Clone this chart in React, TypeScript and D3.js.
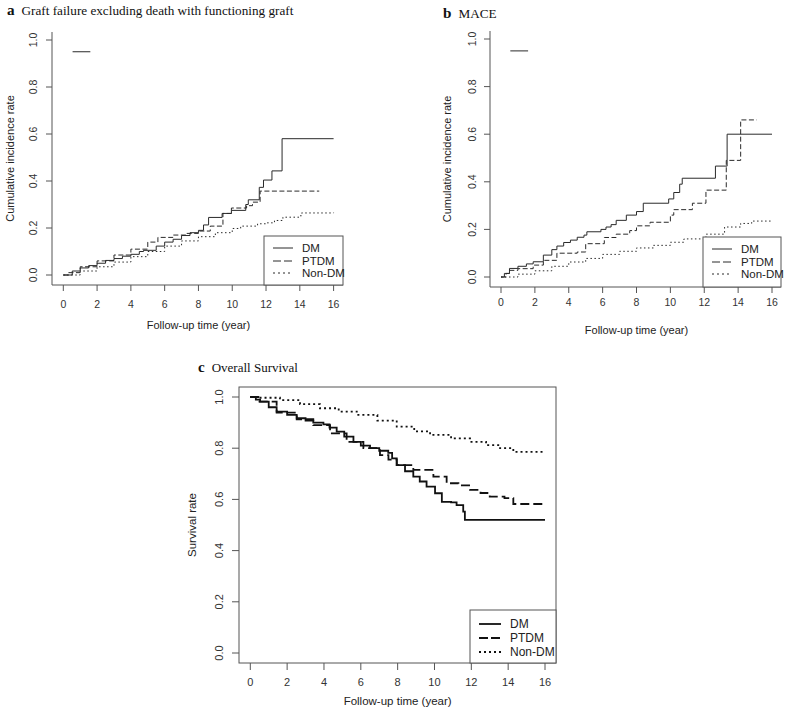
import React from "react";
import * as d3 from "d3";

type P = [number, number];

// ---------- data ----------
const seriesNames = ["DM", "PTDM", "Non-DM"];
const xTicks = [0, 2, 4, 6, 8, 10, 12, 14, 16];
const yTicks = [0, 0.2, 0.4, 0.6, 0.8, 1.0];

const strayMark: P[] = [[0.55, 0.95], [1.6, 0.95]];

const graftDM: P[] = [[0, 0], [0.53, 0.017], [1.0, 0.03], [1.5, 0.04], [2.0, 0.05], [2.5, 0.062], [3.0, 0.07], [3.5, 0.08], [4.0, 0.088], [4.5, 0.1], [4.75, 0.105], [5.5, 0.123], [6.0, 0.14], [6.5, 0.152], [7.0, 0.168], [7.5, 0.18], [8.0, 0.19], [8.3, 0.213], [8.6, 0.245], [9.4, 0.262], [9.95, 0.275], [10.8, 0.3], [10.95, 0.32], [11.6, 0.373], [11.85, 0.404], [12.35, 0.443], [12.95, 0.58], [16, 0.58]];
const graftPTDM: P[] = [[0, 0], [0.3, 0.01], [1, 0.035], [2, 0.06], [3, 0.085], [4, 0.11], [5, 0.14], [5.6, 0.16], [6.5, 0.17], [7.3, 0.177], [8, 0.187], [8.7, 0.208], [9.45, 0.262], [9.95, 0.285], [10.85, 0.295], [11.2, 0.31], [11.65, 0.357], [15.15, 0.357]];
const graftNonDM: P[] = [[0, 0], [1, 0.017], [2, 0.035], [3, 0.055], [4, 0.078], [5, 0.1], [6, 0.123], [7, 0.145], [8, 0.163], [9, 0.18], [10, 0.198], [10.5, 0.208], [11.5, 0.218], [12, 0.222], [12.5, 0.232], [13, 0.246], [14, 0.252], [14.1, 0.264], [16, 0.265]];

const maceDM: P[] = [[0, 0], [0.2, 0.015], [0.5, 0.036], [1.0, 0.045], [1.5, 0.055], [1.9, 0.064], [2.5, 0.092], [3.0, 0.115], [3.3, 0.13], [3.7, 0.145], [4.1, 0.155], [4.5, 0.167], [4.9, 0.176], [5.07, 0.19], [5.9, 0.2], [6.2, 0.21], [6.5, 0.22], [6.8, 0.238], [7.4, 0.26], [8.0, 0.275], [8.4, 0.31], [9.9, 0.328], [10.2, 0.355], [10.55, 0.39], [10.7, 0.415], [12.66, 0.466], [13.35, 0.6], [16, 0.6]];
const macePTDM: P[] = [[0, 0], [0.3, 0.015], [0.5, 0.028], [1.0, 0.035], [1.9, 0.05], [2.5, 0.07], [3.3, 0.1], [4.5, 0.105], [5.0, 0.14], [6.1, 0.166], [6.8, 0.18], [7.6, 0.195], [8.0, 0.215], [8.8, 0.23], [10.0, 0.26], [10.2, 0.283], [11.3, 0.31], [12.1, 0.365], [13.3, 0.49], [14.15, 0.66], [15.1, 0.66]];
const maceNonDM: P[] = [[0, 0], [1, 0.012], [2, 0.026], [3, 0.045], [4, 0.063], [5, 0.078], [6, 0.095], [7, 0.108], [8, 0.122], [9, 0.133], [10, 0.146], [10.8, 0.16], [12.1, 0.18], [13.2, 0.21], [14.15, 0.225], [14.8, 0.235], [16, 0.235]];

const osDM: P[] = [[0, 1], [0.3, 0.99], [0.53, 0.982], [1.0, 0.96], [1.43, 0.943], [2.0, 0.93], [2.52, 0.917], [3.0, 0.908], [3.42, 0.9], [3.97, 0.893], [4.3, 0.88], [4.69, 0.865], [5.1, 0.845], [5.6, 0.825], [6.0, 0.81], [6.5, 0.8], [7.0, 0.79], [7.49, 0.782], [7.7, 0.76], [7.95, 0.734], [8.4, 0.71], [8.85, 0.689], [9.2, 0.67], [9.57, 0.65], [10.03, 0.624], [10.4, 0.59], [10.9, 0.588], [11.2, 0.578], [11.56, 0.552], [11.65, 0.52], [16, 0.52]];
const osPTDM: P[] = [[0, 1], [0.5, 0.982], [1.43, 0.939], [2.52, 0.913], [3.42, 0.89], [4.33, 0.858], [5.23, 0.825], [6.14, 0.8], [7.04, 0.773], [7.5, 0.755], [7.95, 0.734], [8.85, 0.715], [9.94, 0.689], [10.66, 0.663], [11.3, 0.655], [11.93, 0.637], [12.5, 0.625], [13.0, 0.611], [13.8, 0.605], [14.28, 0.582], [16, 0.58]];
const osNonDM: P[] = [[0, 1], [0.5, 0.997], [1.61, 0.988], [2.7, 0.972], [3.78, 0.956], [4.8, 0.943], [5.78, 0.93], [6.9, 0.908], [7.95, 0.884], [8.9, 0.866], [9.76, 0.852], [10.9, 0.838], [11.93, 0.825], [12.8, 0.812], [13.56, 0.8], [14.28, 0.786], [16, 0.786]];

// ---------- component ----------
const SANS = "'Liberation Sans', Arial, sans-serif";
const SERIF = "'Liberation Serif', 'Times New Roman', serif";

interface PanelProps {
  letter: string;
  title: string;
  titleX: number;
  titleY: number;
  titleSize: number;
  ylabel: string;
  series: P[][];
  stray?: P[];
  plot: { l: number; r: number; t: number; b: number };
  x0: number; x16: number; y0: number; y1: number;
  fullBox: boolean;
  legend: { l: number; t: number; lineX0: number; lineX1: number; textX: number; rows: number[] };
  lw: number;
  dash: string[];
  legendDash: string[];
  font: number;
  tickLen: number;
  xLabY: number; xTitleY: number; yLabX: number; yTitleX: number;
  lineColor: string;
}

function Panel(p: PanelProps) {
  const x = d3.scaleLinear().domain([0, 16]).range([p.x0, p.x16]);
  const y = d3.scaleLinear().domain([0, 1]).range([p.y0, p.y1]);
  const line = d3.line<P>().x(d => x(d[0])).y(d => y(d[1])).curve(d3.curveStepAfter);
  const axisColor = "#555";
  const { l, r, t, b } = p.plot;
  return (
    <g>
      <text x={p.titleX} y={p.titleY} fontFamily={SERIF} fontSize={p.titleSize} fill="#111">
        <tspan fontWeight="bold" fontSize={p.titleSize + 2}>{p.letter}</tspan>
        <tspan dx={7}>{p.title}</tspan>
      </text>
      {p.fullBox ? (
        <rect x={l} y={t} width={r - l} height={b - t} fill="none" stroke={axisColor} strokeWidth={1} />
      ) : (
        <path d={`M${l},${t}V${b}H${r}`} fill="none" stroke={axisColor} strokeWidth={1} />
      )}
      {xTicks.map(v => (
        <g key={"x" + v}>
          <line x1={x(v)} x2={x(v)} y1={b} y2={b + p.tickLen} stroke={axisColor} />
          <text x={x(v)} y={p.xLabY} textAnchor="middle" dominantBaseline="central" fontFamily={SANS} fontSize={p.font} fill="#333">{v}</text>
        </g>
      ))}
      {yTicks.map(v => (
        <g key={"y" + v}>
          <line x1={l - p.tickLen} x2={l} y1={y(v)} y2={y(v)} stroke={axisColor} />
          <text transform={`translate(${p.yLabX},${y(v)}) rotate(-90)`} textAnchor="middle" dominantBaseline="central" fontFamily={SANS} fontSize={p.font} fill="#333">{v.toFixed(1)}</text>
        </g>
      ))}
      <text x={(x(0) + x(16)) / 2} y={p.xTitleY} textAnchor="middle" dominantBaseline="central" fontFamily={SANS} fontSize={p.font + 0.5} fill="#222">Follow-up time (year)</text>
      <text transform={`translate(${p.yTitleX},${(t + b) / 2}) rotate(-90)`} textAnchor="middle" dominantBaseline="central" fontFamily={SANS} fontSize={p.font + 0.5} fill="#222">{p.ylabel}</text>
      {p.series.map((s, i) => (
        <path key={"s" + i} d={line(s) || ""} fill="none" stroke={p.lineColor} strokeWidth={p.lw} strokeDasharray={p.dash[i]} />
      ))}
      {p.stray && <path d={d3.line<P>().x(d => x(d[0])).y(d => y(d[1]))(p.stray) || ""} stroke={p.lineColor} strokeWidth={1} fill="none" />}
      <rect x={p.legend.l} y={p.legend.t} width={r - p.legend.l} height={b - p.legend.t} fill="white" stroke={axisColor} strokeWidth={1} />
      {seriesNames.map((n, i) => (
        <g key={"lg" + i}>
          <line x1={p.legend.lineX0} x2={p.legend.lineX1} y1={p.legend.rows[i]} y2={p.legend.rows[i]} stroke={p.lineColor} strokeWidth={p.lw} strokeDasharray={p.legendDash[i]} />
          <text x={p.legend.textX} y={p.legend.rows[i]} dominantBaseline="central" fontFamily={SANS} fontSize={p.font + 1} fill="#222">{n}</text>
        </g>
      ))}
    </g>
  );
}

export default function App() {
  return (
    <svg width={789} height={715} style={{ position: "absolute", left: 0, top: 0, background: "white" }}>
      <Panel
        letter="a" title="Graft failure excluding death with functioning graft" titleX={7} titleY={15} titleSize={13.2}
        ylabel="Cumulative incidence rate" series={[graftDM, graftPTDM, graftNonDM]} stray={strayMark}
        plot={{ l: 52, r: 343, t: 32, b: 285 }} x0={63.3} x16={333.6} y0={275} y1={40} fullBox={false}
        legend={{ l: 264, t: 236, lineX0: 273, lineX1: 293, textX: 302, rows: [248, 261, 273] }}
        lw={1} dash={["none", "5,2.5", "1.5,2.5"]} legendDash={["none", "8,3", "2,3"]} font={10.5} tickLen={6}
        xLabY={304} xTitleY={325} yLabX={33} yTitleX={10} lineColor="#2a2a2a"
      />
      <Panel
        letter="b" title="MACE" titleX={443} titleY={18} titleSize={13.2}
        ylabel="Cumulative incidence rate" series={[maceDM, macePTDM, maceNonDM]} stray={strayMark}
        plot={{ l: 490, r: 781, t: 31, b: 287 }} x0={501} x16={772} y0={277} y1={39} fullBox={false}
        legend={{ l: 703, t: 237, lineX0: 712, lineX1: 732, textX: 741, rows: [249, 262, 274] }}
        lw={1} dash={["none", "5,2.5", "1.5,2.5"]} legendDash={["none", "8,3", "2,3"]} font={10.5} tickLen={6}
        xLabY={302} xTitleY={330} yLabX={472} yTitleX={447} lineColor="#2a2a2a"
      />
      <Panel
        letter="c" title="Overall Survival" titleX={198} titleY={372} titleSize={13}
        ylabel="Survival rate" series={[osDM, osPTDM, osNonDM]}
        plot={{ l: 239, r: 556, t: 387, b: 663 }} x0={250.3} x16={545} y0={653} y1={397} fullBox={true}
        legend={{ l: 470, t: 610, lineX0: 479, lineX1: 501, textX: 510, rows: [624, 638, 652] }}
        lw={1.8} dash={["none", "9,4", "2,3"]} legendDash={["none", "9,3", "2,3"]} font={11} tickLen={7}
        xLabY={682} xTitleY={701} yLabX={219} yTitleX={192} lineColor="#111"
      />
    </svg>
  );
}
